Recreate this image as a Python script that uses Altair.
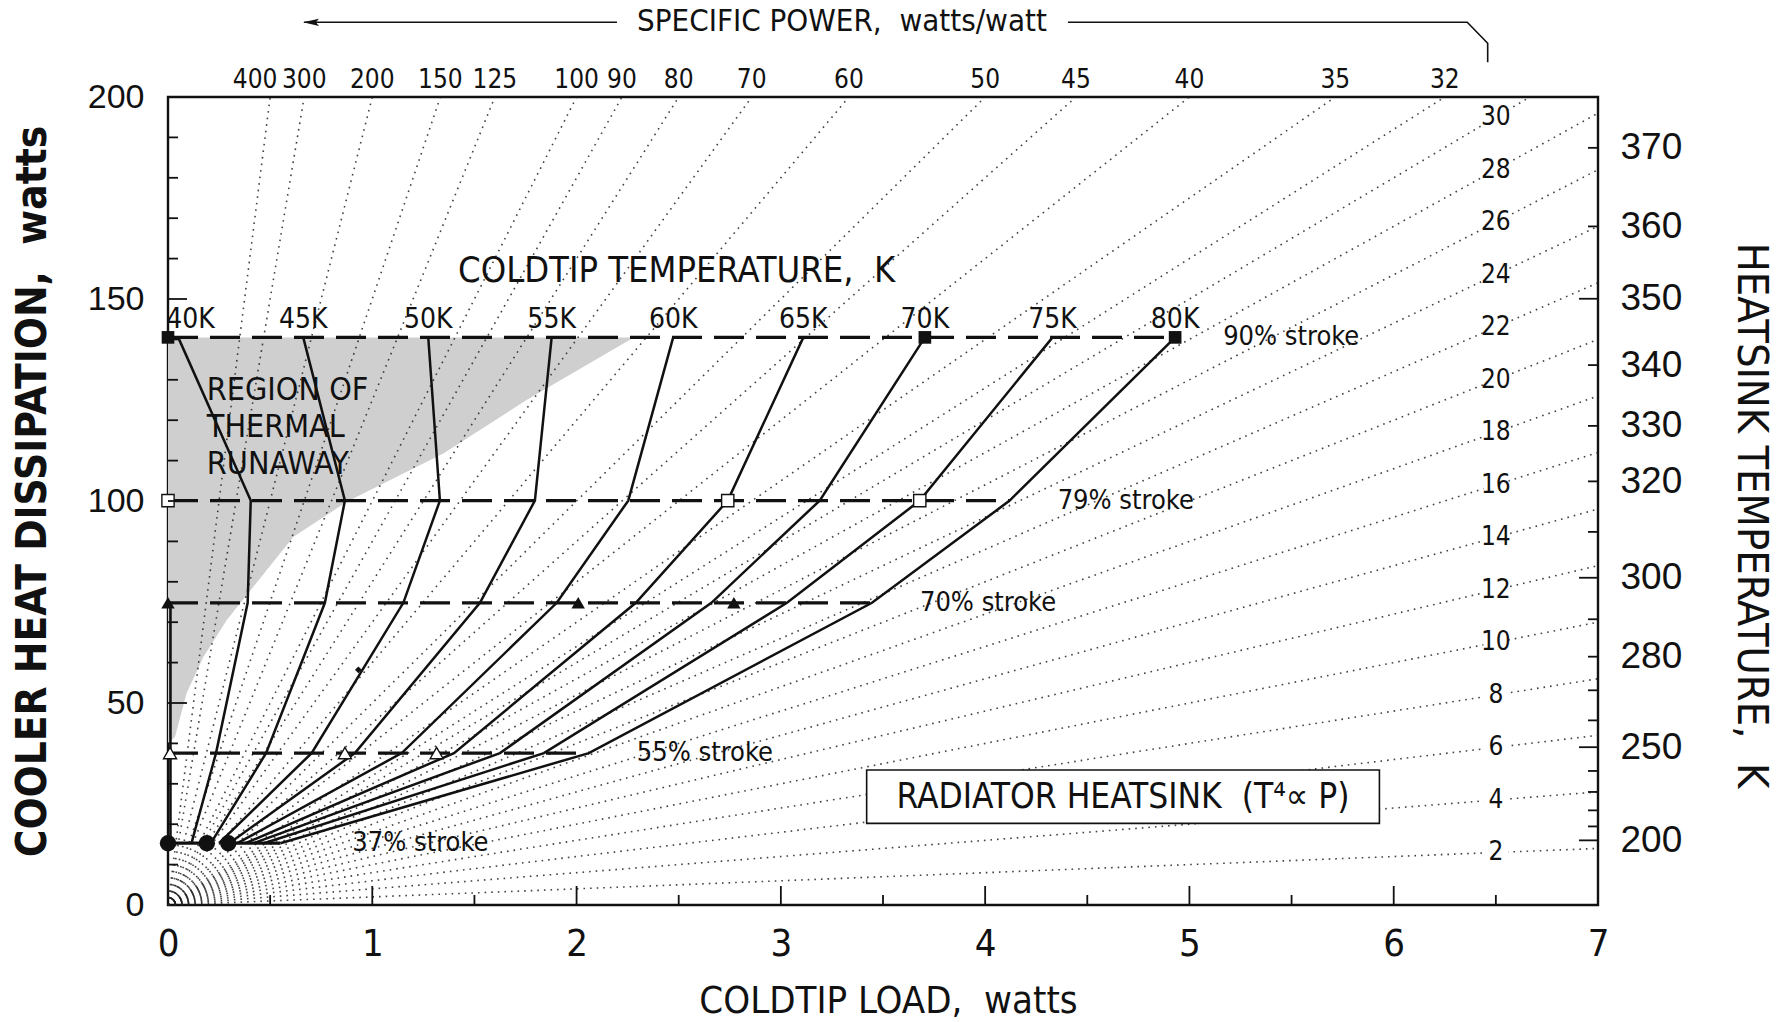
import altair as alt
import numpy as np
import pandas as pd

NARROW = "Liberation Sans Narrow, DejaVu Sans Condensed, Liberation Sans, sans-serif"
WIDE = "Liberation Sans, Arial, sans-serif"
INK = "#111111"

# ---------------- data ----------------
# cooler heat dissipation (W) reached at each piston stroke
stroke_pct = [37, 55, 70, 79, 90]
stroke_heat = [15.3, 37.6, 74.8, 100.1, 140.5]
stroke_end = [0.55, 2.06, 3.446, 4.12, 4.93]   # coldtip load where each stroke line stops

# coldtip-temperature curves: coldtip load (W) at the 37/55/70/79/90 % strokes
temp_names = ["40K", "45K", "50K", "55K", "60K", "65K", "70K", "75K", "80K"]
load_40K = [0.115, 0.235, 0.39, 0.405, 0.05]
load_45K = [0.21, 0.48, 0.768, 0.866, 0.662]
load_50K = [0.25, 0.703, 1.152, 1.331, 1.274]
load_55K = [0.30, 0.915, 1.527, 1.796, 1.878]
load_60K = [0.34, 1.144, 1.903, 2.253, 2.473]
load_65K = [0.38, 1.40, 2.29, 2.74, 3.11]
load_70K = [0.42, 1.625, 2.66, 3.19, 3.705]
load_75K = [0.47, 1.84, 3.03, 3.68, 4.33]
load_80K = [0.55, 2.06, 3.446, 4.12, 4.93]
curve_loads = [load_40K, load_45K, load_50K, load_55K, load_60K,
               load_65K, load_70K, load_75K, load_80K]

# measured points (coldtip load, W) on each stroke
meas_37 = [0.0, 0.19, 0.295]
meas_55 = [0.01, 0.866, 1.315]
meas_70 = [0.0, 2.008, 2.77]
meas_79 = [0.0, 2.74, 3.68]
meas_90 = [0.0, 3.705, 4.93]
odd_point_load = [0.932]
odd_point_heat = [58.2]

# 37 % stroke solid segments and the zero-load trace
seg37_start = [0.0, 0.295]
seg37_end = [0.19, 0.55]
zero_trace_load = 0.012

# specific power lines (W of heat per W of lift) through the origin
sp_top = [400, 300, 200, 150, 125, 100, 90, 80, 70, 60, 50, 45, 40, 35, 32]
sp_side = [30, 28, 26, 24, 22, 20, 18, 16, 14, 12, 10, 8, 6, 4, 2]
sp_side_load = 6.5

# boundary of the thermal-runaway region
runaway_heat = [40, 41.6, 52.4, 61.4, 70.5, 78.8, 91.1, 99.8, 111.8, 125, 140.5]
runaway_load = [0.0, 0.034, 0.091, 0.173, 0.287, 0.418, 0.613, 0.875, 1.35, 1.755, 2.28]

# radiator heatsink temperature scale: heat = (T/100)^4
hs_labels = [200, 250, 280, 300, 320, 330, 340, 350, 360, 370]
hs_major = [200, 250, 300, 350]
hs_minor = [t for t in range(200, 380, 10) if t not in hs_major]

x_ticks_major = [1, 2, 3, 4, 5, 6]
x_ticks_minor = [0.5, 1.5, 2.5, 3.5, 4.5, 5.5, 6.5]
y_ticks_major = [50, 100, 150]
y_ticks_minor = [v for v in range(10, 200, 10) if v % 50]

X_MAX, Y_MAX = 7, 200
T_MAX = 100 * Y_MAX ** 0.25

# ---------------- scales and axes ----------------
xs = alt.Scale(domain=[0, X_MAX], nice=False, zero=False)
ys = alt.Scale(domain=[0, Y_MAX], nice=False, zero=False)
ts = alt.Scale(type="pow", exponent=4, domain=[0, T_MAX], nice=False, zero=False)

x_axis = alt.Axis(values=list(range(8)), format="d", ticks=False, tickSize=0, domain=False,
                  grid=False, labelFlush=False, labelFont=NARROW, labelFontSize=38,
                  labelPadding=20, labelColor=INK, title="COLDTIP LOAD, \u00a0watts",
                  titleFont=NARROW, titleFontSize=38, titleFontWeight="normal",
                  titleColor=INK, titleX=720, titleY=96, titleBaseline="middle",
                  titleAlign="center")
y_axis = alt.Axis(values=[0, 50, 100, 150, 200], format="d", ticks=False, tickSize=0,
                  domain=False, grid=False, labelFlush=False, labelFont=WIDE,
                  labelFontSize=34, labelPadding=24, labelColor=INK,
                  title="COOLER HEAT DISSIPATION, \u00a0watts", titleFont=NARROW,
                  titleFontSize=42, titleFontWeight="bold", titleColor=INK,
                  titleX=-136, titleY=394, titleAngle=-90, titleBaseline="middle",
                  titleAlign="center")
t_axis = alt.Axis(orient="right", values=hs_labels, format="d", ticks=False, tickSize=0,
                  domain=False, grid=False, labelFlush=False, labelFont=WIDE,
                  labelFontSize=37, labelPadding=22, labelColor=INK,
                  title="HEATSINK TEMPERATURE, \u00a0K", titleFont=NARROW,
                  titleFontSize=43, titleFontWeight="normal", titleColor=INK,
                  titleX=152, titleY=418, titleAngle=90, titleBaseline="middle",
                  titleAlign="center")


def X(f):
    return alt.X(f, type="quantitative", scale=xs, axis=x_axis)


def Y(f):
    return alt.Y(f, type="quantitative", scale=ys, axis=y_axis)


one = pd.DataFrame({"k": [0]})

# ---------------- tables ----------------
shade_df = pd.DataFrame({"load": runaway_load, "heat": runaway_heat})

sp_all = sp_top + sp_side
sp_rows = []
for k in sp_all:
    x_end = min(X_MAX, Y_MAX / k)
    sp_rows += [{"k": k, "load": 0.0, "heat": 0.0}, {"k": k, "load": x_end, "heat": k * x_end}]
sp_df = pd.DataFrame(sp_rows)
sp_top_df = pd.DataFrame({"k": sp_top, "load": [Y_MAX / k for k in sp_top], "heat": Y_MAX})
sp_side_df = pd.DataFrame({"k": sp_side, "load": sp_side_load,
                           "heat": [k * sp_side_load for k in sp_side]})

strokes_df = pd.DataFrame({"pct": stroke_pct, "heat": stroke_heat, "end": stroke_end,
                           "start": 0.0})
strokes_df["label"] = strokes_df["pct"].astype(str) + "% stroke"
dashed_df = strokes_df[strokes_df.pct > 37]
seg37_df = pd.DataFrame({"start": seg37_start, "end": seg37_end, "heat": stroke_heat[0]})

curve_rows = []
for name, loads in zip(temp_names, curve_loads):
    for i, (ld, ht) in enumerate(zip(loads, stroke_heat)):
        curve_rows.append({"temp": name, "i": i, "load": ld, "heat": ht})
curve_df = pd.DataFrame(curve_rows)
temp_lab_df = pd.DataFrame({"temp": temp_names,
                            "load": [max(l[-1], 0.11) for l in curve_loads],
                            "heat": stroke_heat[-1]})


def meas(loads, h):
    return pd.DataFrame({"load": loads, "heat": h})


# ---------------- layers ----------------
shade = alt.Chart(shade_df).mark_area(orient="horizontal", color="#cfcfcf").encode(
    x=X("load"), x2=alt.datum(0), y=Y("heat"))

sp_lines = alt.Chart(sp_df).mark_line(strokeDash=[1.6, 5], strokeWidth=1.6, color="#222",
                                      opacity=0.85).encode(
    x=X("load"), y=Y("heat"), detail="k:N")

sp_side_bg = alt.Chart(sp_side_df).mark_square(size=620, color="white", opacity=1,
                                               filled=True).encode(x=X("load"), y=Y("heat"))

box = alt.Chart(one).mark_rect(fill="white", stroke=INK, strokeWidth=1.6).encode(
    x=alt.datum(3.42), x2=alt.datum(5.93), y=alt.datum(20.2), y2=alt.datum(33.4))

dashed = alt.Chart(dashed_df).mark_rule(strokeDash=[30, 12], strokeWidth=3.2,
                                        color=INK).encode(
    x=X("start"), x2="end", y=Y("heat"))

seg37 = alt.Chart(seg37_df).mark_rule(strokeWidth=3.2, color=INK).encode(
    x=X("start"), x2="end", y=Y("heat"))

zero_trace = alt.Chart(one).mark_rule(strokeWidth=2.6, color=INK).encode(
    x=alt.datum(zero_trace_load), y=alt.datum(stroke_heat[0]), y2=alt.datum(stroke_heat[2]))

curves = alt.Chart(curve_df).mark_line(strokeWidth=2.5, color=INK).encode(
    x=X("load"), y=Y("heat"), detail="temp:N", order="i:Q")

m37 = alt.Chart(meas(meas_37, stroke_heat[0])).mark_point(
    shape="circle", filled=True, size=270, color=INK, opacity=1).encode(x=X("load"), y=Y("heat"))
m55 = alt.Chart(meas(meas_55, stroke_heat[1])).mark_point(
    shape="triangle-up", filled=True, size=170, fill="white", stroke=INK, strokeWidth=1.4,
    opacity=1).encode(x=X("load"), y=Y("heat"))
m70 = alt.Chart(meas(meas_70, stroke_heat[2])).mark_point(
    shape="triangle-up", filled=True, size=180, color=INK, opacity=1).encode(
    x=X("load"), y=Y("heat"))
m79 = alt.Chart(meas(meas_79, stroke_heat[3])).mark_point(
    shape="square", filled=True, size=150, fill="white", stroke=INK, strokeWidth=1.4,
    opacity=1).encode(x=X("load"), y=Y("heat"))
m90 = alt.Chart(meas(meas_90, stroke_heat[4])).mark_point(
    shape="square", filled=True, size=160, color=INK, opacity=1).encode(
    x=X("load"), y=Y("heat"))
m_odd = alt.Chart(pd.DataFrame({"load": odd_point_load, "heat": odd_point_heat})).mark_point(
    shape="diamond", filled=True, size=45, color=INK, opacity=1).encode(
    x=X("load"), y=Y("heat"))

# inward ticks on the frame
TICK_L, TICK_S = 19, 10
bx_major = alt.Chart(pd.DataFrame({"v": x_ticks_major})).mark_rule(
    y2Offset=-TICK_L, strokeWidth=1.8, color=INK).encode(
    x=X("v"), y=alt.datum(0), y2=alt.datum(0))
bx_minor = alt.Chart(pd.DataFrame({"v": x_ticks_minor})).mark_rule(
    y2Offset=-TICK_S, strokeWidth=1.8, color=INK).encode(
    x=X("v"), y=alt.datum(0), y2=alt.datum(0))
ly_major = alt.Chart(pd.DataFrame({"v": y_ticks_major})).mark_rule(
    x2Offset=TICK_L, strokeWidth=1.8, color=INK).encode(
    y=Y("v"), x=alt.datum(0), x2=alt.datum(0))
ly_minor = alt.Chart(pd.DataFrame({"v": y_ticks_minor})).mark_rule(
    x2Offset=TICK_S, strokeWidth=1.8, color=INK).encode(
    y=Y("v"), x=alt.datum(0), x2=alt.datum(0))

# text
txt = dict(color=INK, font=NARROW)
sp_top_main = sp_top_df[sp_top_df.k != 400]
sp_top_first = sp_top_df[sp_top_df.k == 400]
sp_top_txt = alt.Chart(sp_top_main).mark_text(fontSize=26, baseline="alphabetic", dy=-9,
                                              **txt).encode(
    x=X("load"), y=Y("heat"), text="k:Q")
# the steepest line sits close to its neighbour, so its label is set a little to the left
sp_top_txt0 = alt.Chart(sp_top_first).mark_text(fontSize=26, baseline="alphabetic", dy=-9,
                                                dx=-15, **txt).encode(
    x=X("load"), y=Y("heat"), text="k:Q")
sp_side_txt = alt.Chart(sp_side_df).mark_text(fontSize=26, baseline="middle", **txt).encode(
    x=X("load"), y=Y("heat"), text="k:Q")
temp_txt = alt.Chart(temp_lab_df).mark_text(fontSize=28, baseline="alphabetic", dy=-9,
                                            **txt).encode(
    x=X("load"), y=Y("heat"), text="temp:N")
stroke_txt = alt.Chart(dashed_df).mark_text(fontSize=27, baseline="middle", align="left",
                                            dx=48, **txt).encode(
    x=X("end"), y=Y("heat"), text="label:N")
stroke37_txt = alt.Chart(strokes_df[strokes_df.pct == 37]).mark_text(
    fontSize=27, baseline="middle", align="left", dx=72, **txt).encode(
    x=X("end"), y=Y("heat"), text="label:N")

notes = alt.layer(
    alt.Chart(one).mark_text(text="COLDTIP TEMPERATURE, \u00a0K", fontSize=36, **txt).encode(
        x=alt.datum(2.49), y=alt.datum(157)),
    alt.Chart(one).mark_text(text="REGION OF\nTHERMAL\nRUNAWAY", lineBreak="\n",
                             lineHeight=37, fontSize=32, align="left", baseline="middle",
                             **txt).encode(x=alt.datum(0.19), y=alt.datum(127.5)),
    alt.Chart(one).mark_text(text="RADIATOR HEATSINK \u00a0(T\u2074\u221d P)", fontSize=35,
                             baseline="middle", **txt).encode(
        x=alt.datum(4.675), y=alt.datum(26.8)),
    alt.Chart(one).mark_text(text="SPECIFIC POWER, \u00a0watts/watt", fontSize=31,
                             baseline="middle", **txt).encode(
        x=alt.datum(3.299), y=alt.datum(218.5)),
)

# heading arrow and bracket above the frame
arrow_df = pd.DataFrame({"seg": [0, 0, 1, 1, 1, 1],
                         "o": [0, 1, 0, 1, 2, 3],
                         "load": [0.666, 2.198, 4.405, 6.36, 6.46, 6.46],
                         "heat": [218.5, 218.5, 218.5, 218.5, 213.3, 208.6]})
arrow = alt.Chart(arrow_df).mark_line(strokeWidth=1.6, color=INK).encode(
    x=X("load"), y=Y("heat"), detail="seg:N", order="o:Q")
arrow_head = alt.Chart(one).mark_point(
    shape="M-1,0L1,-0.45L0.6,0L1,0.45Z", filled=True, size=260, color=INK, opacity=1).encode(
    x=alt.datum(0.7), y=alt.datum(218.5))

base = alt.layer(shade, sp_lines, sp_side_bg, box, dashed, seg37, zero_trace, curves,
                 m37, m55, m70, m79, m90, m_odd, bx_major, bx_minor, ly_major, ly_minor,
                 sp_top_txt, sp_top_txt0, sp_side_txt, temp_txt, stroke_txt, stroke37_txt,
                 notes, arrow, arrow_head)

# heatsink temperature ticks on the right edge
rt_major = alt.Chart(pd.DataFrame({"T": hs_major})).mark_rule(
    x2Offset=-TICK_L, strokeWidth=1.8, color=INK).encode(
    y=alt.Y("T:Q", scale=ts, axis=t_axis), x=alt.datum(X_MAX), x2=alt.datum(X_MAX))
rt_minor = alt.Chart(pd.DataFrame({"T": hs_minor})).mark_rule(
    x2Offset=-TICK_S, strokeWidth=1.8, color=INK).encode(
    y=alt.Y("T:Q", scale=ts, axis=t_axis), x=alt.datum(X_MAX), x2=alt.datum(X_MAX))
right = alt.layer(rt_major, rt_minor)

chart = alt.layer(base, right).resolve_scale(y="independent").properties(
    width=1430, height=808,
    autosize=alt.AutoSizeParams(type="none"),
    padding={"left": 168, "top": 97, "right": 182, "bottom": 117},
    background="white",
).configure_view(stroke=INK, strokeWidth=2.4)

chart.save("out.html", embed_options={"renderer": "svg", "actions": False})
